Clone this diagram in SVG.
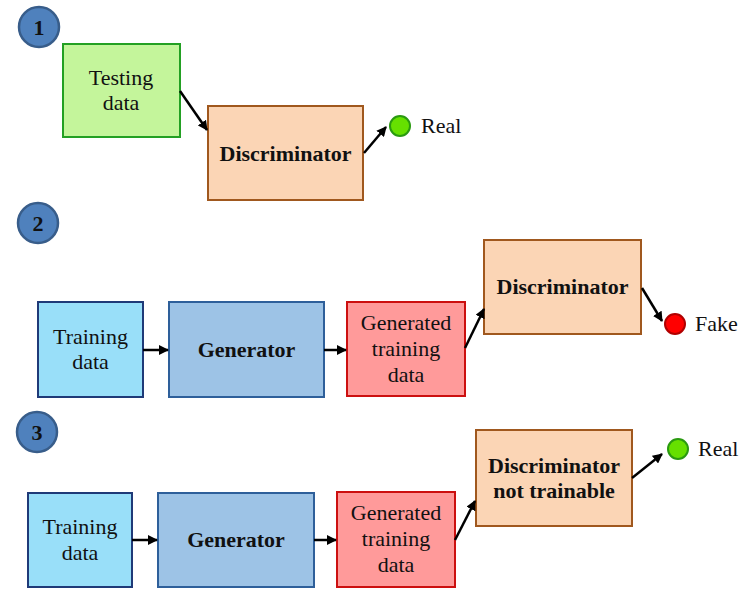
<svg xmlns="http://www.w3.org/2000/svg" width="752" height="589" viewBox="0 0 752 589">
<style>
text{font-family:"Liberation Serif","Times New Roman",serif;font-size:22px;fill:#111;text-anchor:middle}
.b{font-weight:bold}
.l{text-anchor:start}
.num{fill:#4f81bd;stroke:#385d8a;stroke-width:2.5}
.test{fill:#c4f59b;stroke:#23a023;stroke-width:2}
.disc{fill:#fbd5b5;stroke:#a0581e;stroke-width:2}
.train{fill:#99dff9;stroke:#1f3a78;stroke-width:2}
.gen{fill:#9dc3e6;stroke:#2e5f9a;stroke-width:2}
.gtd{fill:#ff9a9a;stroke:#cc1010;stroke-width:2}
.real{fill:#66e000;stroke:#2a9a10;stroke-width:2}
.fake{fill:#ff0000;stroke:#b00000;stroke-width:2}
.c line{stroke:#000;stroke-width:2.5;marker-end:url(#ah)}
</style>
<defs>
<marker id="ah" viewBox="0 0 10 10" refX="9" refY="5" markerWidth="4" markerHeight="4" orient="auto" markerUnits="strokeWidth">
<path d="M0,0 L10,5 L0,10 z" fill="#000"/>
</marker>
</defs>
<rect width="752" height="589" fill="#fff"/>

<g id="step1"><circle class="num" cx="39" cy="27" r="20"/><text class="b" x="39" y="35">1</text></g>
<g id="step2"><circle class="num" cx="38" cy="223" r="20"/><text class="b" x="38" y="231">2</text></g>
<g id="step3"><circle class="num" cx="37" cy="432" r="20"/><text class="b" x="37" y="440">3</text></g>

<g id="testing-data"><rect class="test" x="63" y="44" width="117" height="93"/><text x="121" y="85">Testing</text><text x="121" y="110">data</text></g>
<g id="disc1"><rect class="disc" x="208" y="106" width="155" height="94"/><text class="b" x="285.5" y="161">Discriminator</text></g>
<g id="real1"><circle class="real" cx="400" cy="126" r="10"/><text class="l" x="421" y="133">Real</text></g>

<g id="train2"><rect class="train" x="38" y="302" width="105" height="95"/><text x="90.5" y="344">Training</text><text x="90.5" y="369">data</text></g>
<g id="gen2"><rect class="gen" x="169" y="302" width="155" height="95"/><text class="b" x="246.5" y="357">Generator</text></g>
<g id="gtd2"><rect class="gtd" x="347" y="302" width="118" height="94"/><text x="406" y="330">Generated</text><text x="406" y="356">training</text><text x="406" y="382">data</text></g>
<g id="disc2"><rect class="disc" x="484" y="240" width="157" height="94"/><text class="b" x="562.5" y="294">Discriminator</text></g>
<g id="fake2"><circle class="fake" cx="675" cy="324" r="10"/><text class="l" x="695" y="331">Fake</text></g>

<g id="train3"><rect class="train" x="28" y="493" width="104" height="94"/><text x="80" y="534">Training</text><text x="80" y="560">data</text></g>
<g id="gen3"><rect class="gen" x="158" y="493" width="156" height="94"/><text class="b" x="236" y="547">Generator</text></g>
<g id="gtd3"><rect class="gtd" x="337" y="492" width="118" height="95"/><text x="396" y="520">Generated</text><text x="396" y="546">training</text><text x="396" y="572">data</text></g>
<g id="disc3"><rect class="disc" x="476" y="430" width="156" height="96"/><text class="b" x="554" y="473">Discriminator</text><text class="b" x="554" y="498">not trainable</text></g>
<g id="real3"><circle class="real" cx="678" cy="449" r="10"/><text class="l" x="698" y="456">Real</text></g>

<g id="connectors" class="c">
<line x1="180" y1="91" x2="207" y2="130"/>
<line x1="364" y1="153" x2="386" y2="127"/>
<line x1="143" y1="350" x2="168" y2="350"/>
<line x1="324" y1="350" x2="346" y2="350"/>
<line x1="465" y1="348" x2="484" y2="309"/>
<line x1="642" y1="288" x2="662" y2="321"/>
<line x1="132" y1="540" x2="157" y2="540"/>
<line x1="314" y1="540" x2="336" y2="540"/>
<line x1="455" y1="540" x2="475" y2="501"/>
<line x1="632" y1="478" x2="662" y2="454"/>
</g>
</svg>
